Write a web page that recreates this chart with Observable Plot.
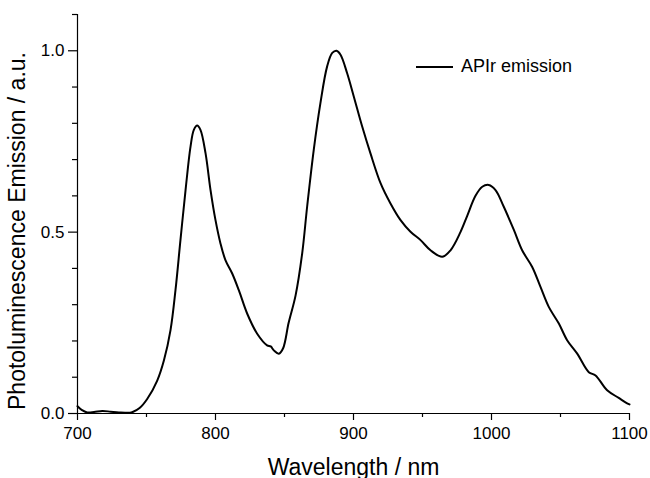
<!DOCTYPE html>
<html>
<head>
<meta charset="utf-8">
<script src="https://cdn.jsdelivr.net/npm/d3@7"></script>
<script src="https://cdn.jsdelivr.net/npm/@observablehq/plot@0.6"></script>
<style>
  html, body { margin: 0; padding: 0; background: #fff; }
  #wrap { position: relative; width: 650px; height: 478px; overflow: hidden; font-family: "Liberation Sans", Arial, sans-serif; }
  #legend { position: absolute; left: 416px; top: 56px; display: flex; align-items: center; font-size: 18px; color: #000; white-space: nowrap; }
  #legend .sw { display: inline-block; width: 37px; height: 0; border-top: 2px solid #000; margin-right: 8px; }
</style>
</head>
<body>
<div id="wrap"><div id="legend"><span class="sw"></span><span>APIr emission</span></div></div>
<script>
const wavelength = [700,703,707,712,718,724,730,738,740,745,750.5,757.7,762.6,767.4,771,774.6,778.3,781.9,784.3,786.7,789.1,792.8,796.4,800,803.6,807.2,812.1,816.9,823,830.2,837.4,840,842.3,845.9,849,853,858,862.8,866.4,871.2,876,880.9,884.6,887.7,890.6,895.4,900.2,906.3,912.3,919.6,926.8,934.1,941.3,948.6,955.8,964.3,970.3,977.5,982.4,988.4,993.3,998,1002.9,1008.9,1016.2,1022.2,1029.5,1035.5,1041.5,1048.8,1054.8,1062.1,1070.5,1075.4,1083.8,1092.2,1098.3,1100];
const emission = [0.020,0.010,0.003,0.004,0.007,0.005,0.003,0.002,0.004,0.015,0.040,0.090,0.146,0.230,0.340,0.478,0.616,0.736,0.782,0.794,0.782,0.717,0.616,0.533,0.469,0.423,0.386,0.340,0.275,0.220,0.188,0.185,0.174,0.165,0.180,0.250,0.325,0.441,0.570,0.727,0.855,0.957,0.994,1.000,0.989,0.938,0.874,0.791,0.717,0.635,0.579,0.533,0.501,0.478,0.450,0.432,0.450,0.500,0.545,0.600,0.625,0.630,0.616,0.570,0.506,0.450,0.404,0.349,0.294,0.248,0.202,0.165,0.114,0.105,0.064,0.043,0.028,0.025];
const xMajor = [700, 800, 900, 1000, 1100];
const xMinor = [750, 850, 950, 1050];
const yMajor = [0, 0.5, 1.0];
const yMinor = [0.1, 0.2, 0.3, 0.4, 0.6, 0.7, 0.8, 0.9, 1.1];
const seriesName = "APIr emission";
const xLabel = "Wavelength / nm";
const yLabel = "Photoluminescence Emission / a.u.";

const data = wavelength.map((w, i) => ({w, v: emission[i]}));

const chart = Plot.plot({
  width: 650,
  height: 478,
  marginLeft: 77,
  marginRight: 21,
  marginTop: 14,
  marginBottom: 65,
  style: {fontFamily: "'Liberation Sans', Arial, sans-serif", color: "#000", background: "#fff"},
  x: {domain: [700, 1100]},
  y: {domain: [0, 1.1]},
  marks: [
    Plot.ruleY([0], {stroke: "#000", strokeWidth: 1.2}),
    Plot.ruleX([700], {stroke: "#000", strokeWidth: 1.2}),
    Plot.axisX({ticks: xMajor, tickSize: 7, tickPadding: 6, tickFormat: d3.format("d"), fontSize: 17, label: null, strokeWidth: 1.2}),
    Plot.axisX({ticks: xMinor, tickSize: 4, tickFormat: () => "", label: null, strokeWidth: 1.2}),
    Plot.axisY({ticks: yMajor, tickSize: 9, tickPadding: 4, tickFormat: d3.format(".1f"), fontSize: 17, label: null, strokeWidth: 1.2}),
    Plot.axisY({ticks: yMinor, tickSize: 5, tickFormat: () => "", label: null, strokeWidth: 1.2}),
    Plot.line(data, {x: "w", y: "v", stroke: "#000", strokeWidth: 2, curve: "catmull-rom"}),
    Plot.text([xLabel], {frameAnchor: "bottom", lineAnchor: "bottom", dy: 61, fontSize: 23, fill: "#000"}),
    Plot.text([yLabel], {frameAnchor: "left", textAnchor: "middle", lineAnchor: "middle", rotate: -90, dx: -60, dy: 17, fontSize: 23, fill: "#000"})
  ]
});
document.getElementById("wrap").prepend(chart);
</script>
</body>
</html>
